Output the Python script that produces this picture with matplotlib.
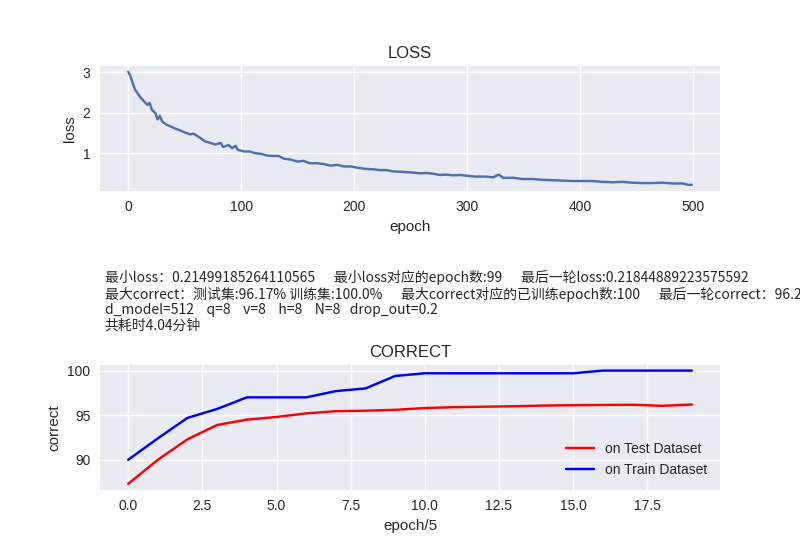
import matplotlib
matplotlib.use('Agg')
from matplotlib import pyplot as plt

'''loss / correct curves of the transformer run, with a summary text block'''

# loss (epoch, loss)
loss_epoch = [0, 2, 4, 6, 8, 11, 14, 17, 19, 21, 24, 26, 28, 30, 34, 39, 42, 46, 50, 55,
              58, 64, 68, 73, 77, 82, 84, 89, 92, 95, 97, 103, 108, 112, 118, 123, 128,
              133, 138, 144, 150, 155, 161, 167, 173, 179, 185, 191, 197, 203, 210, 217,
              223, 229, 234, 240, 246, 252, 258, 264, 270, 276, 282, 288, 294, 300, 308,
              317, 323, 328, 332, 341, 349, 358, 367, 376, 385, 394, 402, 411, 420, 429,
              438, 446, 455, 464, 473, 482, 491, 496, 499]
loss_value = [3.01, 2.9, 2.73, 2.57, 2.49, 2.37, 2.28, 2.19, 2.24, 2.07, 1.99, 1.83, 1.92,
              1.78, 1.70, 1.64, 1.60, 1.56, 1.51, 1.46, 1.48, 1.37, 1.29, 1.25, 1.21, 1.25,
              1.15, 1.20, 1.12, 1.18, 1.08, 1.04, 1.04, 1.00, 0.98, 0.94, 0.93, 0.93, 0.86,
              0.84, 0.79, 0.81, 0.75, 0.75, 0.73, 0.69, 0.71, 0.67, 0.67, 0.64, 0.61, 0.60,
              0.58, 0.58, 0.55, 0.54, 0.53, 0.52, 0.50, 0.51, 0.49, 0.46, 0.47, 0.45, 0.46,
              0.44, 0.42, 0.42, 0.40, 0.47, 0.39, 0.39, 0.36, 0.36, 0.34, 0.33, 0.32, 0.31,
              0.31, 0.31, 0.29, 0.28, 0.29, 0.27, 0.26, 0.26, 0.27, 0.25, 0.25, 0.215, 0.218]

# correct, one value every 5 epochs
correct_step = list(range(20))
correct_test = [87.3, 90.0, 92.3, 93.9, 94.5, 94.8, 95.2, 95.45, 95.5, 95.6, 95.8, 95.9,
                95.95, 96.0, 96.08, 96.12, 96.15, 96.17, 96.05, 96.2]
correct_train = [90.0, 92.4, 94.7, 95.7, 97.0, 97.0, 97.0, 97.7, 98.0, 99.4, 99.7, 99.7,
                 99.7, 99.7, 99.7, 99.7, 100.0, 100.0, 100.0, 100.0]

info = ['最小loss：0.21499185264110565      最小loss对应的epoch数:99      最后一轮loss:0.21844889223575592',
        '最大correct：测试集:96.17% 训练集:100.0%      最大correct对应的已训练epoch数:100      最后一轮correct：96.2%',
        'd_model=512    q=8    v=8    h=8    N=8   drop_out=0.2',
        '共耗时4.04分钟']

plt.style.use('seaborn-v0_8')
plt.rcParams['font.family'] = ['Liberation Sans', 'Noto Sans CJK SC', 'DejaVu Sans']

fig = plt.figure(figsize=(8, 5.5), dpi=100)

ax1 = fig.add_subplot(311)
ax1.plot(loss_epoch, loss_value)
ax1.set_title('LOSS')
ax1.set_xlabel('epoch')
ax1.set_ylabel('loss')

# summary block sits between the two plots; the second line runs off the right edge as in the original
fig.text(0.131, 0.509, '\n'.join(info), va='top', ha='left', fontsize=10,
         family=['Noto Sans CJK SC', 'DejaVu Sans'], linespacing=1.12)

ax3 = fig.add_subplot(313)
ax3.plot(correct_step, correct_test, color='red', label='on Test Dataset')
ax3.plot(correct_step, correct_train, color='blue', label='on Train Dataset')
ax3.legend(loc='best')
ax3.set_title('CORRECT')
ax3.set_xlabel('epoch/5')
ax3.set_ylabel('correct')

plt.savefig('out.png')
